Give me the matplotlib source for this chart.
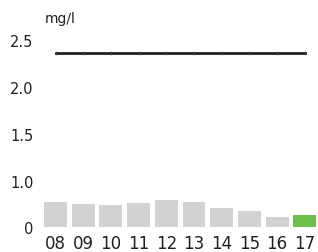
import matplotlib
matplotlib.use("Agg")
import matplotlib.pyplot as plt
import numpy as np

categories = ["08", "09", "10", "11", "12", "13", "14", "15", "16", "17"]
values = [0.54, 0.50, 0.48, 0.52, 0.59, 0.55, 0.41, 0.36, 0.22, 0.27]
limit = [2.37] * 10
ytick_vals = [0, 1.0, 1.5, 2.0, 2.5]
ytick_labels = ["0", "1.0", "1.5", "2.0", "2.5"]
unit = "mg/l"

grey = "#d1d2d4"
green = "#6cc04a"
dark = "#231f20"

def fwd(v):
    v = np.asarray(v, dtype=float)
    return np.where(v <= 1.0, v * 0.5, v - 0.5)

def inv(u):
    u = np.asarray(u, dtype=float)
    return np.where(u <= 0.5, u * 2.0, u + 0.5)

fig = plt.figure(figsize=(3.18, 2.53), dpi=100)
ax = fig.add_axes([0.131, 0.097, 0.871, 0.739])
ax.set_yscale("function", functions=(fwd, inv))

x = np.arange(len(categories))
colors = [grey] * (len(categories) - 1) + [green]
ax.bar(x, values, width=0.83, color=colors, zorder=2)
ax.plot(x, limit, color=dark, lw=2, zorder=3, clip_on=False,
        marker="|", markersize=2.5, markeredgecolor="#555555", markeredgewidth=0.4)

ax.set_xlim(-0.5, len(categories) - 0.5)
ax.set_ylim(0, 2.5)
ax.set_yticks(ytick_vals)
ax.set_yticklabels(ytick_labels)
ax.set_xticks(x)
ax.set_xticklabels(categories)
ax.yaxis.set_minor_locator(matplotlib.ticker.NullLocator())
ax.tick_params(axis="y", length=0, pad=6, labelsize=10.5, labelcolor=dark)
ax.tick_params(axis="x", length=0, pad=5, labelsize=12, labelcolor=dark)
for s in ax.spines.values():
    s.set_visible(False)

fig.text(45 / 318, 1 - 19 / 253, unit, fontsize=10, color=dark, ha="left", va="center")

fig.savefig("out.png", dpi=100)
